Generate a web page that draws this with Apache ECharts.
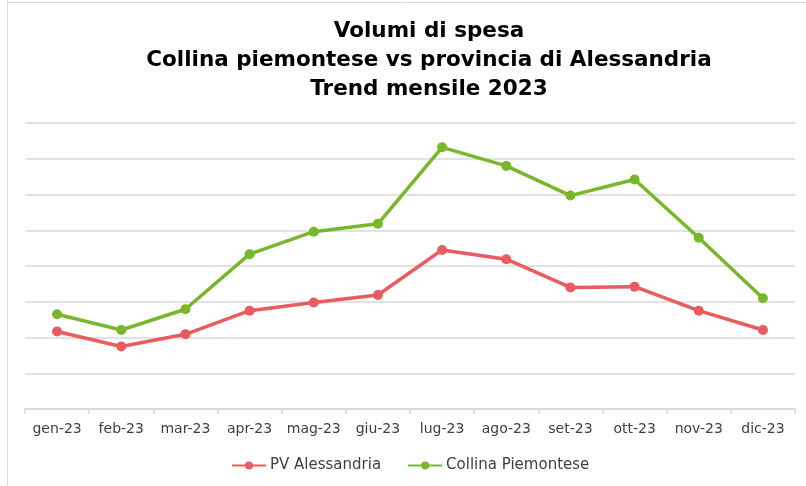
<!DOCTYPE html>
<html>
<head>
<meta charset="utf-8">
<script src="https://cdn.jsdelivr.net/npm/echarts@6/dist/echarts.min.js"></script>
<style>
  html, body { margin: 0; padding: 0; background: #fff; }
  #chart { width: 806px; height: 486px; }
</style>
</head>
<body>
<div id="chart"></div>
<script>
// Months of 2023
const months = ['gen-23', 'feb-23', 'mar-23', 'apr-23', 'mag-23', 'giu-23',
                'lug-23', 'ago-23', 'set-23', 'ott-23', 'nov-23', 'dic-23'];

// Spending volumes (relative units)
const pvAlessandria = [2.17, 1.75, 2.09, 2.75, 2.98, 3.19, 4.45, 4.19, 3.40, 3.42, 2.75, 2.21];
const collinaPiemontese = [2.65, 2.21, 2.79, 4.33, 4.96, 5.18, 7.32, 6.80, 5.97, 6.42, 4.79, 3.10];

const seriesNames = ['PV Alessandria', 'Collina Piemontese'];
const colors = ['#E95B5E', '#78B72A'];

const chart = echarts.init(document.getElementById('chart'), null, { renderer: 'canvas' });

chart.setOption({
  animation: false,
  backgroundColor: '#ffffff',
  title: {
    text: 'Volumi di spesa\nCollina piemontese vs provincia di Alessandria\nTrend mensile 2023',
    left: 424,
    textAlign: 'center',
    top: 12,
    textStyle: {
      fontFamily: 'DejaVu Sans',
      fontWeight: 'bold',
      fontSize: 21.5,
      lineHeight: 29,
      color: '#000000'
    }
  },
  graphic: [
    { type: 'line', shape: { x1: 7.5, y1: 0, x2: 7.5, y2: 486 }, style: { stroke: '#D9D9D9', lineWidth: 1 } },
    { type: 'line', shape: { x1: 7, y1: 2.5, x2: 806, y2: 2.5 }, style: { stroke: '#D9D9D9', lineWidth: 1 } }
  ],
  legend: {
    data: seriesNames,
    left: 226,
    top: 453,
    itemWidth: 34,
    itemHeight: 10,
    itemGap: 26,
    textStyle: { fontFamily: 'DejaVu Sans', fontSize: 15, color: '#404040', padding: [0, 0, 0, -1] }
  },
  grid: { left: 25, right: 11, top: 123, bottom: 77, containLabel: false },
  xAxis: {
    type: 'category',
    data: months,
    boundaryGap: true,
    axisLine: { lineStyle: { color: '#D9D9D9', width: 1.5 } },
    axisTick: { show: true, interval: 0, length: 5, lineStyle: { color: '#D9D9D9', width: 1.5 } },
    axisLabel: { interval: 0, fontFamily: 'DejaVu Sans', fontSize: 14, color: '#404040', margin: 13 }
  },
  yAxis: {
    type: 'value',
    min: 0,
    max: 8,
    interval: 1,
    axisLine: { show: false },
    axisTick: { show: false },
    axisLabel: { show: false },
    splitLine: { lineStyle: { color: '#D9D9D9', width: 1.5 } }
  },
  series: [
    {
      name: seriesNames[0],
      type: 'line',
      data: pvAlessandria,
      color: colors[0],
      symbol: 'circle',
      symbolSize: 10,
      lineStyle: { width: 3.5 },
      z: 3
    },
    {
      name: seriesNames[1],
      type: 'line',
      data: collinaPiemontese,
      color: colors[1],
      symbol: 'circle',
      symbolSize: 10,
      lineStyle: { width: 3.5 },
      z: 4
    }
  ]
});
</script>
</body>
</html>
